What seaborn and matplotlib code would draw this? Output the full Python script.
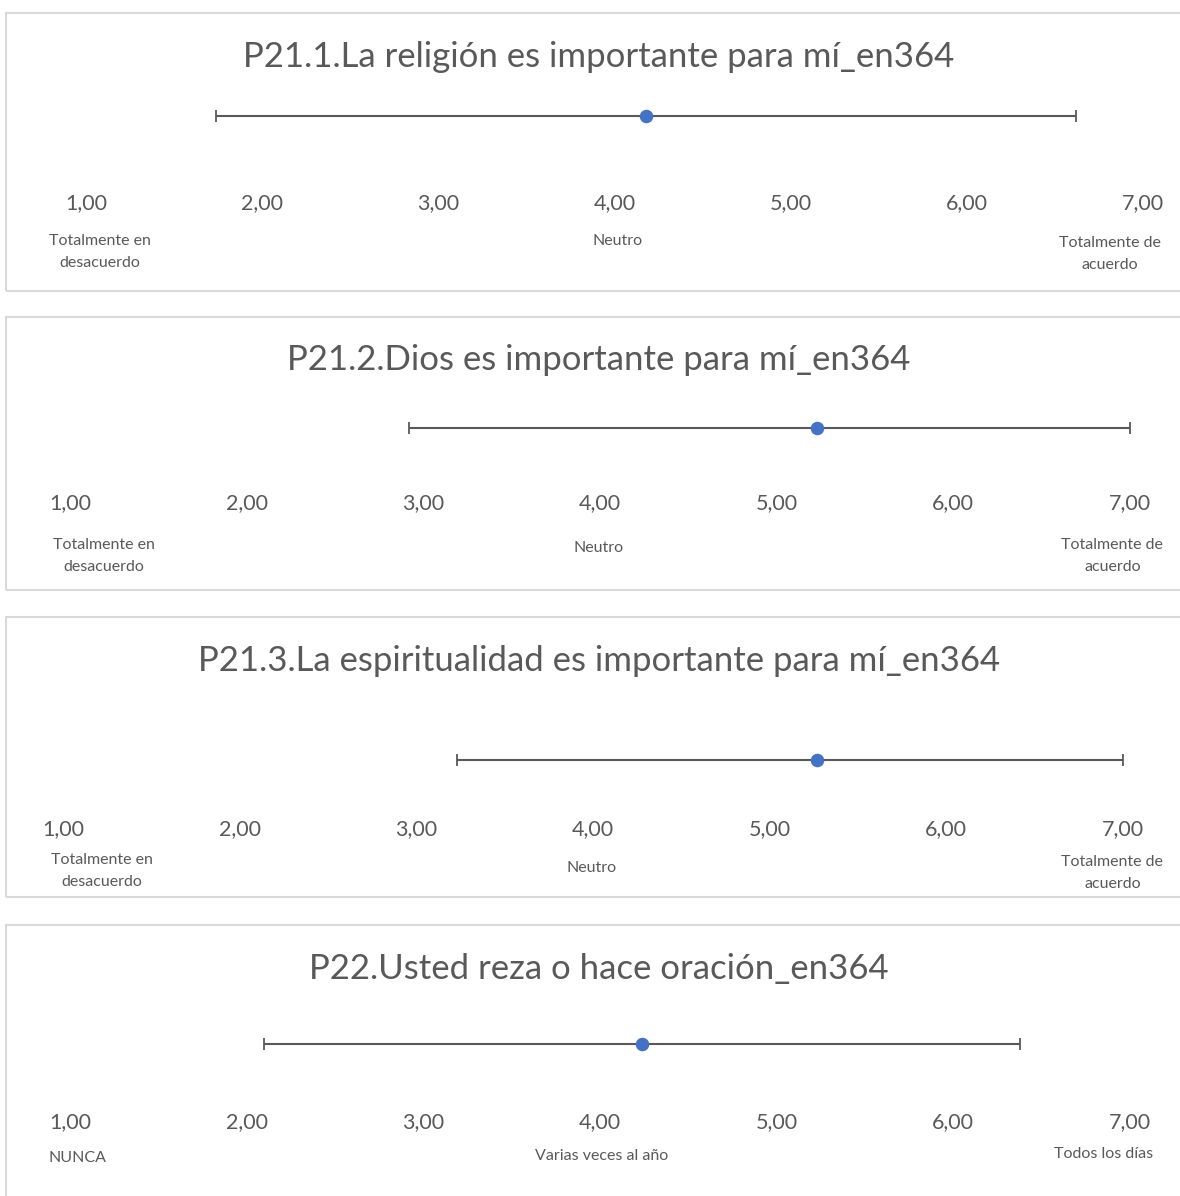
import matplotlib
matplotlib.use("Agg")
import matplotlib.pyplot as plt
import seaborn as sns
import pandas as pd
from matplotlib.patches import Rectangle

# Datos
titles = [
    "P21.1.La religión es importante para mí_en364",
    "P21.2.Dios es importante para mí_en364",
    "P21.3.La espiritualidad es importante para mí_en364",
    "P22.Usted reza o hace oración_en364",
]
means = [4.18, 5.23, 5.27, 4.24]
err_low = [1.74, 2.92, 3.23, 2.10]
err_high = [6.62, 7.00, 7.00, 6.38]
tick_values = [1, 2, 3, 4, 5, 6, 7]
tick_labels = ["1,00", "2,00", "3,00", "4,00", "5,00", "6,00", "7,00"]
anchor_labels = [
    ["Totalmente en\ndesacuerdo", "Neutro", "Totalmente de\nacuerdo"],
    ["Totalmente en\ndesacuerdo", "Neutro", "Totalmente de\nacuerdo"],
    ["Totalmente en\ndesacuerdo", "Neutro", "Totalmente de\nacuerdo"],
    ["NUNCA", "Varias veces al año", "Todos los días"],
]

df = pd.DataFrame({"titulo": titles, "media": means, "bajo": err_low, "alto": err_high})

# Layout (pixels)
W, H = 1180, 1196
frames = [(13, 291), (317, 590), (617, 897), (925, 1210)]
x_px = [(86, 1143), (70, 1130), (63, 1123), (70, 1130)]
title_y = [57, 360, 661, 969]
err_y = [116, 428, 760, 1044]
tick_y = [203, 503, 829, 1122]
anchor_x = [[1.08, 4.02, 6.81], [1.19, 3.99, 6.90], [1.22, 3.99, 6.94], [1.04, 4.01, 6.85]]
anchor_y = [[252, 241, 254], [556, 548, 556], [871, 868, 873], [1158, 1156, 1154]]

GRAY = "#595959"
BLUE = "#4472C4"

sns.set_theme(style="white")
plt.rcParams["font.family"] = ["Lato", "DejaVu Sans"]

fig = plt.figure(figsize=(W / 100, H / 100), dpi=100)

for i, row in df.iterrows():
    top, bottom = frames[i]
    fig.patches.append(Rectangle((6 / W, 1 - bottom / H), 1.2, (bottom - top) / H,
                                 transform=fig.transFigure, facecolor="none",
                                 edgecolor="#d9d9d9", linewidth=1.5, zorder=-1))
    fig.text(599 / W, 1 - title_y[i] / H, row["titulo"],
             ha="center", va="center", fontsize=25, color=GRAY)

    x0, x1 = x_px[i]
    h = tick_y[i] - err_y[i]
    ax = fig.add_axes([x0 / W, 1 - tick_y[i] / H, (x1 - x0) / W, 2 * h / H])
    ax.set_xlim(1, 7)
    ax.set_ylim(-1, 1)
    ax.patch.set_alpha(0)
    for s in ax.spines.values():
        s.set_visible(False)

    ax.errorbar([row["media"]], [0],
                xerr=[[row["media"] - row["bajo"]], [row["alto"] - row["media"]]],
                fmt="none", ecolor=GRAY, elinewidth=1.5, capsize=4.5, capthick=1.3,
                clip_on=False)
    sns.scatterplot(x=[row["media"]], y=[0], ax=ax, color=BLUE, s=95,
                    edgecolor=BLUE, linewidth=0, zorder=5, clip_on=False)

    ax.set_xticks(tick_values)
    ax.set_xticklabels(tick_labels, fontsize=15.5, color=GRAY)
    ax.tick_params(axis="x", length=0, pad=0)
    plt.setp(ax.get_xticklabels(), va="center")
    ax.set_yticks([])
    ax.set_xlabel("")
    ax.set_ylabel("")

    for lab, xa, ya in zip(anchor_labels[i], anchor_x[i], anchor_y[i]):
        ax.annotate(lab, xy=(xa, H - ya), xycoords=("data", "figure pixels"),
                    ha="center", va="center", fontsize=11.5, color=GRAY,
                    linespacing=1.7, annotation_clip=False)

fig.savefig("out.png", dpi=100, facecolor="white")
